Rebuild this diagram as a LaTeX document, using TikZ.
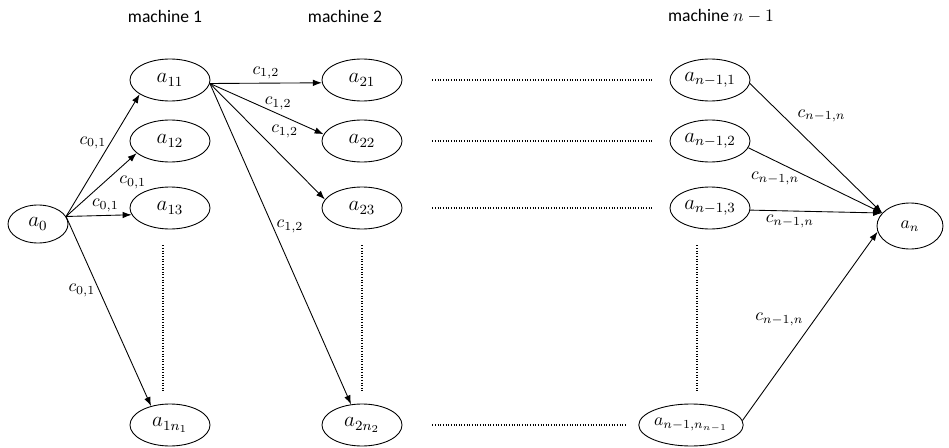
\documentclass[tikz,border=0pt]{standalone}
\usepackage{amsmath}
\usepackage{amssymb}
\usepackage{fontspec}
\setsansfont{Carlito}
\usepackage{tikz}
\usetikzlibrary{arrows.meta}
\usetikzlibrary{calc}
\usetikzlibrary{shapes.geometric}

\tikzset{
	state/.style={draw, ellipse, line width=0.5pt, inner sep=0pt, minimum width=16mm, minimum height=8.4mm, font=\large},
	title/.style={font=\sffamily\normalsize},
	arr/.style={-{Latex[length=1.8mm, width=1.3mm]}, line width=0.5pt},
	lbl/.style={font=\normalsize, inner sep=2pt},
	dotline/.style={line width=0.8pt, dash pattern=on 0.6pt off 0.9pt}
}

\begin{document}
\begin{tikzpicture}[x=0.2mm, y=-0.2mm]
	\useasboundingbox (0,0) rectangle (949,448);

	% column titles
	\node[title] (m1) at (165,16) {machine 1};
	\node[title] (m2) at (345,16) {machine 2};
	\node[title] (mn) at (721,16) {machine $n-1$};

	% states
	\node[state, minimum width=12mm, minimum height=7.6mm] (a0) at (38,224) {$a_0$};

	\node[state] (a11) at (170,80) {$a_{11}$};
	\node[state] (a12) at (170,141) {$a_{12}$};
	\node[state] (a13) at (170,208) {$a_{13}$};
	\node[state] (a1n) at (170,425) {$a_{1n_1}$};

	\node[state] (a21) at (362,80) {$a_{21}$};
	\node[state] (a22) at (362,141) {$a_{22}$};
	\node[state] (a23) at (362,208) {$a_{23}$};
	\node[state] (a2n) at (362,425) {$a_{2n_2}$};

	\node[state] (n1) at (710,80) {$a_{n-1,1}$};
	\node[state] (n2) at (710,141) {$a_{n-1,2}$};
	\node[state] (n3) at (710,208) {$a_{n-1,3}$};
	\node[state, minimum width=18.4mm, font=\normalsize] (nn) at (691,425) {$a_{n-1,n_{n-1}}$};

	\node[state, minimum width=13.2mm, minimum height=9.2mm, font=\normalsize] (an) at (910,226) {$a_n$};

	% machine 1
	\draw[arr] (a0.15) -- node[lbl, pos=.6, left] (l01) {$c_{0,1}$} (a11.205);
	\draw[arr] (a0.15) -- node[lbl, pos=.7, below right] (l02) {$c_{0,1}$} (a12.200);
	\draw[arr] (a0.15) -- node[lbl, pos=.6, above] (l03) {$c_{0,1}$} (a13.190);
	\draw[arr] (a0.15) -- node[lbl, pos=.39, left] (l04) {$c_{0,1}$} (a1n.135);

	% machine 2
	\draw[arr] (a11.-5) -- node[lbl, pos=.5, above] (l11) {$c_{1,2}$} (a21.184);
	\draw[arr] (a11.-5) -- node[lbl, pos=.6, above] (l12) {$c_{1,2}$} (a22.170);
	\draw[arr] (a11.-5) -- node[lbl, pos=.5, above right] (l13) {$c_{1,2}$} (a23.167);
	\draw[arr] (a11.-5) -- node[lbl, pos=.445, right] (l14) {$c_{1,2}$} (a2n.118);

	% machine n-1 to the end
	\draw[arr] (n1.-5) -- node[lbl, pos=.33, above right] (l21) {$c_{n-1,n}$} (an.155);
	\draw[arr] (n2.-10) -- node[lbl, pos=.2, below=4pt] (l22) {$c_{n-1,n}$} (an.155);
	\draw[arr] (n3.-3) -- node[lbl, pos=.3, below] (l23) {$c_{n-1,n}$} (an.155);
	\draw[arr] (nn.5) -- node[lbl, pos=.48, above left] (l24) {$c_{n-1,n}$} (an.190);

	% gaps between machines
	\draw[dotline] ($(a21.east)+(30,0)$) -- ($(n1.west)+(-17,0)$);
	\draw[dotline] ($(a22.east)+(30,0)$) -- ($(n2.west)+(-17,0)$);
	\draw[dotline] ($(a23.east)+(30,0)$) -- ($(n3.west)+(-17,0)$);
	\draw[dotline] ($(a2n.east)+(30,0)$) -- ($(nn.west)+(-12,0)$);

	\draw[dotline] ($(a13.south)+(-7,16)$) -- ($(a1n.north)+(-7,-12)$);
	\draw[dotline] ($(a23.south)+(0,16)$) -- ($(a2n.north)+(0,-12)$);
	\draw[dotline] ($(n3.south)+(-13,16)$) -- ($(nn.north)+(6,-12)$);
	%\draw[dotline] (a0) -- (an);

\end{tikzpicture}
\end{document}
